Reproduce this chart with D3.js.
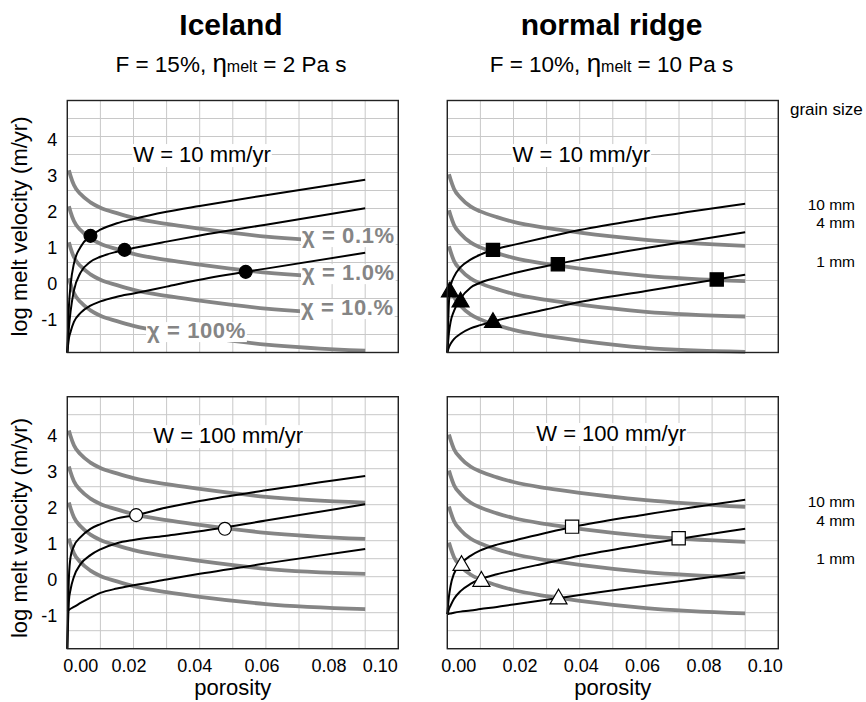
<!DOCTYPE html>
<html>
<head>
<meta charset="utf-8">
<script src="https://cdn.jsdelivr.net/npm/d3@7"></script>
<style>
  body { margin: 0; background: #fff; }
  svg { display: block; font-family: Arial, "Liberation Sans", Helvetica, sans-serif; }
</style>
</head>
<body>
<div id="chart"></div>
<script>
// porosity values the curves were read at
const phiBlack = [0, 0.0005, 0.001, 0.002, 0.004, 0.007, 0.01, 0.015, 0.02, 0.03, 0.04, 0.06, 0.09]
const phiGray = [0.0005, 0.001, 0.002, 0.004, 0.007, 0.01, 0.015, 0.02, 0.03, 0.04, 0.06, 0.09]

const xTicks = [0, 0.02, 0.04, 0.06, 0.08, 0.1]
const yTicks = [-1, 0, 1, 2, 3, 4]
const grainSizes = ['10 mm', '4 mm', '1 mm']
const chiLabels = ['χ = 0.1%', 'χ = 1.0%', 'χ = 10.%', 'χ = 100%']

// log melt velocity (m/yr) for 10 mm, 4 mm, 1 mm grains
const icelandBlackW10 = [
  [-2, -0.7, -0.12, 0.47, 0.93, 1.24, 1.41, 1.59, 1.71, 1.91, 2.07, 2.37, 2.8],
  [-2, -1.3, -0.85, -0.28, 0.22, 0.52, 0.66, 0.8, 0.9, 1.08, 1.25, 1.55, 2.01],
  [-2, -1.6, -1.42, -1.15, -0.9, -0.7, -0.58, -0.45, -0.36, -0.17, 0.02, 0.33, 0.77]
]
const icelandBlackW100 = [
  [-2, 0, 0.55, 0.85, 1.1, 1.33, 1.46, 1.62, 1.7, 1.92, 2.1, 2.4, 2.8],
  [-2, -0.65, -0.35, 0, 0.35, 0.6, 0.76, 0.93, 1.02, 1.14, 1.26, 1.56, 2.01],
  [-0.95, -0.92, -0.89, -0.84, -0.73, -0.58, -0.45, -0.33, -0.24, -0.08, 0.08, 0.37, 0.77]
]
const ridgeBlackW10 = [
  [-2, -0.6, -0.15, 0.1, 0.37, 0.58, 0.72, 0.88, 0.99, 1.2, 1.4, 1.72, 2.13],
  [-2, -1.45, -1.15, -0.85, -0.5, -0.2, -0.06, 0.08, 0.2, 0.4, 0.58, 0.9, 1.34],
  [-2, -1.85, -1.76, -1.63, -1.48, -1.33, -1.24, -1.11, -1.0, -0.8, -0.6, -0.29, 0.16]
]
const ridgeBlackW100 = [
  [-1.04, -0.55, -0.25, 0.08, 0.35, 0.58, 0.73, 0.89, 1.0, 1.22, 1.42, 1.73, 2.14],
  [-1.04, -0.9, -0.8, -0.62, -0.4, -0.2, -0.07, 0.07, 0.18, 0.38, 0.58, 0.9, 1.33],
  [-1.04, -1.03, -1.02, -1.0, -0.97, -0.94, -0.9, -0.84, -0.77, -0.64, -0.51, -0.25, 0.12]
]

// chi curves (0.1%, 1%, 10%, 100%)
const icelandGrayW10 = [
  [3.06, 2.9, 2.65, 2.4, 2.17, 2.02, 1.87, 1.74, 1.57, 1.44, 1.22, 1.05],
  [2.06, 1.9, 1.65, 1.4, 1.17, 1.02, 0.87, 0.74, 0.57, 0.44, 0.22, 0.05],
  [1.06, 0.9, 0.65, 0.4, 0.17, 0.02, -0.13, -0.26, -0.43, -0.56, -0.78, -0.95],
  [0.06, -0.1, -0.35, -0.6, -0.83, -0.98, -1.13, -1.26, -1.43, -1.56, -1.78, -1.95]
]
const icelandGrayW100 = [
  [4.06, 3.9, 3.65, 3.4, 3.17, 3.02, 2.87, 2.74, 2.57, 2.44, 2.22, 2.06],
  [3.06, 2.9, 2.65, 2.4, 2.17, 2.02, 1.87, 1.74, 1.57, 1.44, 1.22, 1.05],
  [2.06, 1.9, 1.65, 1.4, 1.17, 1.02, 0.87, 0.74, 0.57, 0.44, 0.22, 0.08],
  [1.06, 0.9, 0.65, 0.4, 0.17, 0.02, -0.13, -0.26, -0.43, -0.56, -0.76, -0.9]
]
const ridgeGrayW10 = [
  [2.95, 2.8, 2.55, 2.3, 2.06, 1.92, 1.76, 1.63, 1.46, 1.33, 1.13, 0.96],
  [1.95, 1.8, 1.55, 1.3, 1.06, 0.92, 0.76, 0.63, 0.46, 0.33, 0.13, -0.02],
  [0.95, 0.8, 0.55, 0.3, 0.06, -0.08, -0.24, -0.37, -0.54, -0.67, -0.87, -1.0],
  [-0.05, -0.2, -0.45, -0.7, -0.94, -1.08, -1.24, -1.37, -1.54, -1.67, -1.87, -1.98]
]
const ridgeGrayW100 = [
  [3.95, 3.8, 3.55, 3.3, 3.06, 2.92, 2.76, 2.63, 2.46, 2.33, 2.13, 1.94],
  [2.95, 2.8, 2.55, 2.3, 2.06, 1.92, 1.76, 1.63, 1.46, 1.33, 1.13, 0.97],
  [1.95, 1.8, 1.55, 1.3, 1.06, 0.92, 0.76, 0.63, 0.46, 0.33, 0.13, -0.02],
  [0.95, 0.8, 0.55, 0.3, 0.06, -0.08, -0.24, -0.37, -0.54, -0.67, -0.87, -1.02]
]

// intersection markers [porosity, log velocity]
const icelandDotsW10 = [[0.007, 1.24], [0.0173, 0.85], [0.0539, 0.24]]
const icelandDotsW100 = [[0.0208, 1.71], [0.0476, 1.33]]
const ridgeSquaresW10 = [[0.0138, 0.85], [0.0334, 0.45], [0.0814, 0.03]]
const ridgeTrianglesW10 = [[0.0008, -0.32], [0.004, -0.6], [0.0138, -1.17]]
const ridgeSquaresW100 = [[0.0377, 1.39], [0.0699, 1.07]]
const ridgeTrianglesW100 = [[0.0043, 0.31], [0.0103, -0.13], [0.0336, -0.62]]

const W = 331
const H = 252
const GRAY = '#858585'

const svg = d3.select('#chart').append('svg').attr('width', 866).attr('height', 702)

const panels = [
  { left: 67.3, top: 100.5, black: icelandBlackW10, gray: icelandGrayW10, wText: 'W = 10 mm/yr', wPos: [0.0407, 3.29],
    yLabels: true, xLabels: false, marks: [{ data: icelandDotsW10, type: d3.symbolCircle, size: 130, fill: '#000' }] },
  { left: 447.3, top: 100.5, black: ridgeBlackW10, gray: ridgeGrayW10, wText: 'W = 10 mm/yr', wPos: [0.0405, 3.29],
    yLabels: false, xLabels: false,
    marks: [{ data: ridgeSquaresW10, type: d3.symbolSquare, size: 175, fill: '#000' },
            { data: ridgeTrianglesW10, type: d3.symbolTriangle, size: 125, fill: '#000' }] },
  { left: 67.3, top: 396.7, black: icelandBlackW100, gray: icelandGrayW100, wText: 'W = 100 mm/yr', wPos: [0.0486, 3.71],
    yLabels: true, xLabels: true, labelShift: [13, -5, -5.5, -4.5, -3.7, -18.6],
    marks: [{ data: icelandDotsW100, type: d3.symbolCircle, size: 130, fill: '#fff' }] },
  { left: 447.3, top: 396.7, black: ridgeBlackW100, gray: ridgeGrayW100, wText: 'W = 100 mm/yr', wPos: [0.0495, 3.77],
    yLabels: false, xLabels: true, labelShift: [11, 6, 1, -4, -8.7, -13.6],
    marks: [{ data: ridgeSquaresW100, type: d3.symbolSquare, size: 175, fill: '#fff' },
            { data: ridgeTrianglesW100, type: d3.symbolTriangle, size: 125, fill: '#fff' }] }
]

// text with an opaque white box behind it
function boxedText(g, x, y, txt, opts) {
  const grp = g.append('g')
  const t = grp.append('text')
    .attr('x', x)
    .attr('y', y)
    .attr('text-anchor', opts.anchor || 'middle')
    .attr('font-size', opts.size)
    .attr('font-weight', opts.weight || 'normal')
    .attr('letter-spacing', opts.spacing || 0)
    .attr('fill', opts.color || '#000')
    .text(txt)
  const b = t.node().getBBox()
  const trim = opts.trim || 0
  grp.insert('rect', 'text')
    .attr('x', b.x - 1)
    .attr('y', b.y + trim)
    .attr('width', b.width + 2)
    .attr('height', b.height - trim - (opts.trimBottom || 0))
    .attr('fill', '#fff')
  return grp
}

function drawPanel(p) {
  const x = d3.scaleLinear().domain([0, 0.1]).range([p.left, p.left + W])
  const y = d3.scaleLinear().domain([-2, 5]).range([p.top + H, p.top])
  const g = svg.append('g')

  // grid
  g.selectAll('.vgrid')
    .data(x.ticks(10))
    .join('line')
    .attr('x1', d => x(d)).attr('x2', d => x(d))
    .attr('y1', p.top).attr('y2', p.top + H)
    .attr('stroke', '#c8c8c8').attr('stroke-width', 1)
  g.selectAll('.hgrid')
    .data(y.ticks(14))
    .join('line')
    .attr('x1', p.left).attr('x2', p.left + W)
    .attr('y1', d => y(d)).attr('y2', d => y(d))
    .attr('stroke', '#c8c8c8').attr('stroke-width', 1)

  const grayLine = d3.line().x((d, i) => x(phiGray[i])).y(d => y(d)).curve(d3.curveMonotoneX)
  const blackLine = d3.line().x((d, i) => x(phiBlack[i])).y(d => y(d)).curve(d3.curveMonotoneX)

  g.selectAll('.gray')
    .data(p.gray)
    .join('path')
    .attr('d', grayLine)
    .attr('fill', 'none').attr('stroke', GRAY).attr('stroke-width', 3.8)

  g.selectAll('.black')
    .data(p.black)
    .join('path')
    .attr('d', blackLine)
    .attr('fill', 'none').attr('stroke', '#000').attr('stroke-width', 2)

  p.marks.forEach(m => {
    g.append('g').selectAll('path')
      .data(m.data)
      .join('path')
      .attr('transform', d => `translate(${x(d[0])},${y(d[1])})`)
      .attr('d', d3.symbol().type(m.type).size(m.size))
      .attr('fill', m.fill).attr('stroke', '#000').attr('stroke-width', 1.2)
  })

  boxedText(g, x(p.wPos[0]), y(p.wPos[1]), p.wText, { size: 22, trim: 2 })

  if (p.yLabels) {
    const ax = g.append('g')
      .attr('transform', `translate(${p.left},0)`)
      .call(d3.axisLeft(y).tickValues(yTicks).tickSize(0).tickPadding(10).tickFormat(d => String(d)))
    ax.select('.domain').remove()
    ax.selectAll('text').attr('font-size', 18).attr('font-family', null).attr('dy', '0.5em').attr('fill', '#000')
  }
  if (p.xLabels) {
    const ax = g.append('g')
      .attr('transform', `translate(0,${p.top + H})`)
      .call(d3.axisBottom(x).tickValues(xTicks).tickSize(0).tickPadding(10.5).tickFormat(d3.format('.2f')))
    ax.select('.domain').remove()
    ax.selectAll('text').attr('font-size', 18).attr('font-family', null).attr('fill', '#000')
      .attr('dx', (d, i) => p.labelShift[i])
    g.append('text')
      .attr('x', x(0.05)).attr('y', 695)
      .attr('text-anchor', 'middle').attr('font-size', 22)
      .text('porosity')
  }

  // plot frame
  g.append('rect')
    .attr('x', p.left).attr('y', p.top).attr('width', W).attr('height', H)
    .attr('fill', 'none').attr('stroke', '#222').attr('stroke-width', 1.4)

  return { x, y, g }
}

const drawn = panels.map(drawPanel)

// chi labels, Iceland W = 10 only
const tl = drawn[0]
const chiPos = [[0.0709, 1.04], [0.0709, 0.01], [0.0706, -0.96], [0.0241, -1.6]]
chiLabels.forEach((c, i) => {
  boxedText(tl.g, tl.x(chiPos[i][0]), tl.y(chiPos[i][1]), c,
    { size: 22, weight: 'bold', color: GRAY, anchor: 'start', spacing: 0.6, trim: 4, trimBottom: 1 })
})

// grain size labels
const tr = drawn[1]
const br = drawn[3]
svg.append('text').attr('x', 790).attr('y', 115).attr('font-size', 17).text('grain size')
const grainTop = [2.12, 1.6, 0.52]
const grainBottom = [2.1, 1.56, 0.49]
grainSizes.forEach((s, i) => {
  svg.append('text').attr('x', 855).attr('y', tr.y(grainTop[i])).attr('dy', '0.35em')
    .attr('text-anchor', 'end').attr('font-size', 15.5).text(s)
  svg.append('text').attr('x', 855).attr('y', br.y(grainBottom[i])).attr('dy', '0.35em')
    .attr('text-anchor', 'end').attr('font-size', 15.5).text(s)
})

// y axis titles
;[[226.5], [528]].forEach(([cy]) => {
  svg.append('text')
    .attr('transform', `translate(26.5,${cy}) rotate(-90)`)
    .attr('text-anchor', 'middle').attr('font-size', 22)
    .text('log melt velocity (m/yr)')
})

// column titles
const titles = [
  { cx: 231, name: 'Iceland', F: '15%', eta: '2' },
  { cx: 611.5, name: 'normal ridge', F: '10%', eta: '10' }
]
titles.forEach(t => {
  svg.append('text').attr('x', t.cx).attr('y', 35).attr('text-anchor', 'middle')
    .attr('font-size', 30).attr('font-weight', 'bold').text(t.name)
  const sub = svg.append('text').attr('x', t.cx).attr('y', 72).attr('text-anchor', 'middle').attr('font-size', 22.5)
  sub.append('tspan').text(`F = ${t.F}, `)
  sub.append('tspan').attr('font-size', 26).text('η')
  sub.append('tspan').attr('font-size', 16).text('melt')
  sub.append('tspan').text(` = ${t.eta} Pa s`)
})
</script>
</body>
</html>
